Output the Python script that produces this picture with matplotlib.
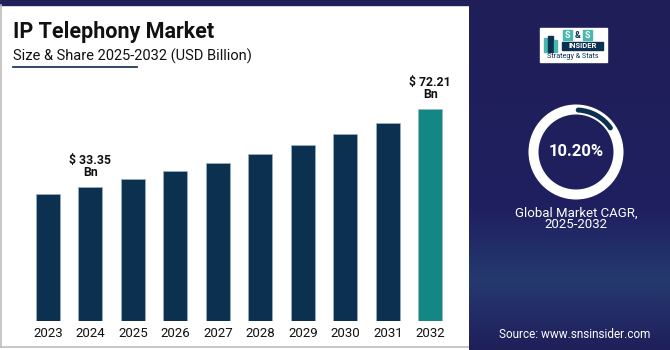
import numpy as np
import matplotlib
matplotlib.use("Agg")
import matplotlib.pyplot as plt
from matplotlib.patches import Rectangle, Circle, Arc
from matplotlib.colors import LinearSegmentedColormap

plt.rcParams['font.family'] = ['Roboto', 'DejaVu Sans']

# data
years = ['2023', '2024', '2025', '2026', '2027', '2028', '2029', '2030', '2031', '2032']
values = [29.9, 33.35, 37.3, 41.1, 45.3, 49.9, 54.4, 59.9, 65.2, 72.21]
labeled = {'2024': '$ 33.35\nBn', '2032': '$ 72.21\nBn'}
cagr_text = '10.20%'

W, H = 670, 350
NAVY = '#201f5a'
BAR = '#0c3150'
TEAL = '#138783'


def fx(px):
    return px / W


def fy(py):
    # py measured from the top of the image
    return 1 - py / H


fig = plt.figure(figsize=(6.7, 3.5), dpi=100)

# background layer in pixel coordinates (y up)
bg = fig.add_axes([0, 0, 1, 1])
bg.set_xlim(0, W)
bg.set_ylim(0, H)
bg.axis('off')

bg.add_patch(Rectangle((0, 0), W, H, color='white', zorder=0))
# top band and grey frame
bg.add_patch(Rectangle((0, H - 5), W, 5, color=NAVY, zorder=1))
bg.plot([1, 1], [3, H - 5], color='#bdbdbd', lw=1.2, zorder=1)
bg.plot([1, 469], [3.3, 3.3], color='#bdbdbd', lw=1.2, zorder=1)

# right panel with soft vertical gradient
cmap = LinearSegmentedColormap.from_list('panel', [
    (0.0, '#1f1e58'), (0.6, '#1f2060'), (0.8, '#25396f'), (0.9, '#222c66'), (1.0, '#1f1f5a')])
grad = np.linspace(0, 1, 256).reshape(-1, 1)
bg.imshow(grad, cmap=cmap, extent=(469, W, 0, H), aspect='auto', origin='upper', zorder=1)
bg.set_xlim(0, W)
bg.set_ylim(0, H)

# title block
bg.text(13, H - 32, 'IP Telephony Market', fontsize=15.5, fontweight='bold',
        color='#111111', va='center', ha='left', zorder=3)
bg.text(13, H - 56, 'Size & Share 2025-2032 (USD Billion)', fontsize=10.5,
        color='#111111', va='center', ha='left', zorder=3)
bg.plot([13, 137], [H - 67, H - 67], color='#1d3b5c', lw=1.3, zorder=3)

# logo
bg.add_patch(Rectangle((540, H - 62), 67, 34, color='white', zorder=3))
bg.add_patch(Rectangle((544, H - 52), 3, 14, color='#46b8b0', zorder=4))
bg.add_patch(Rectangle((548, H - 52), 5, 16, color='#0c3150', zorder=4))
bg.add_patch(Rectangle((554, H - 52), 3, 12, color='#46b8b0', zorder=4))
bg.add_patch(Rectangle((563, H - 40), 9, 10, color='#46b8b0', zorder=4))
bg.add_patch(Rectangle((583, H - 40), 9, 10, color='#46b8b0', zorder=4))
bg.text(567.5, H - 35, 'S', fontsize=6.5, fontweight='bold', color='white',
        ha='center', va='center', zorder=5)
bg.text(577.5, H - 35, '&', fontsize=6.5, fontweight='bold', color='#0c3150',
        ha='center', va='center', zorder=5)
bg.text(587.5, H - 35, 'S', fontsize=6.5, fontweight='bold', color='white',
        ha='center', va='center', zorder=5)
bg.add_patch(Rectangle((562, H - 50), 41, 8, color='#0c3150', zorder=4))
bg.text(582.5, H - 46, 'INSIDER', fontsize=5.5, fontweight='bold', color='white',
        ha='center', va='center', zorder=5)
bg.text(573, H - 57, 'Strategy & Stats', fontsize=5.2, color='#0c3150',
        ha='center', va='center', zorder=5)

# CAGR donut
cx, cy = 576, H - 152
bg.add_patch(Circle((cx, cy), 42.5, fill=False, ec='white', lw=7.2, zorder=3))
bg.add_patch(Arc((cx, cy), 84, 84, theta1=35, theta2=87, color=BAR, lw=3.6,
                 capstyle='round', zorder=4))
bg.text(cx, cy, cagr_text, fontsize=12, fontweight='bold', color='white',
        ha='center', va='center', zorder=4)
bg.text(cx, H - 213, 'Global Market CAGR,', fontsize=9.5, color='white',
        ha='center', va='center', zorder=4)
bg.text(cx, H - 225, '2025-2032', fontsize=9.5, color='white',
        ha='center', va='center', zorder=4)
bg.text(575, H - 334, 'Source: www.snsinsider.com', fontsize=8.5, color='white',
        ha='center', va='center', zorder=4)

# bar chart
base = -33.26          # bars do not start at zero in the reference
per_px = 0.4982        # value units per pixel
step = 42.48           # pixels between bar centres
left_px = 48 - 0.5 * step
bottom_px = 320.7
top_px = 60
ax = fig.add_axes([fx(left_px), fy(bottom_px), fx(10 * step), (bottom_px - top_px) / H])
ax.set_facecolor('none')
x = np.arange(len(years))
colors = [TEAL if y == '2032' else BAR for y in years]
ax.bar(x, np.array(values) - base, bottom=base, width=0.565, color=colors,
       edgecolor='#9bb3c6', linewidth=0.5)
ax.set_xlim(-0.5, 9.5)
ax.set_ylim(base, base + (bottom_px - top_px) * per_px)
ax.set_xticks(x)
ax.set_xticklabels(years, fontsize=9.5, color='#111111')
ax.tick_params(axis='x', length=0, pad=4.5)
ax.set_yticks([])
for s in ax.spines.values():
    s.set_visible(False)

for i, y in enumerate(years):
    if y in labeled:
        ax.annotate(labeled[y], (i, values[i]), xytext=(0, 5.5), textcoords='offset points',
                    ha='center', va='bottom', fontsize=8.8, fontweight='bold',
                    color='#111111', linespacing=0.95)

fig.savefig('out.png', dpi=100)
